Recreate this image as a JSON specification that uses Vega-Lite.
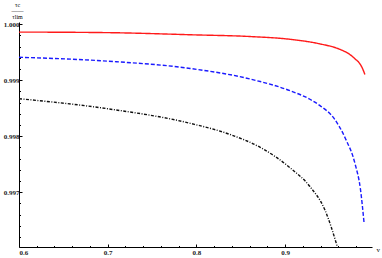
{
  "$schema": "https://vega.github.io/schema/vega-lite/v6.json",
  "width": 353,
  "height": 225,
  "autosize": {"type": "none"},
  "padding": {"left": 19, "top": 22, "right": 10, "bottom": 11},
  "background": "white",
  "config": {"view": {"stroke": null}},
  "data": {"values": [
    {"s": "a", "v": 0.600, "t": 0.99986},
    {"s": "a", "v": 0.700, "t": 0.99985},
    {"s": "a", "v": 0.798, "t": 0.99981},
    {"s": "a", "v": 0.861, "t": 0.99978},
    {"s": "a", "v": 0.906, "t": 0.99973},
    {"s": "a", "v": 0.939, "t": 0.99965},
    {"s": "a", "v": 0.962, "t": 0.99955},
    {"s": "a", "v": 0.973, "t": 0.99946},
    {"s": "a", "v": 0.979, "t": 0.99938},
    {"s": "a", "v": 0.984, "t": 0.99930},
    {"s": "a", "v": 0.987, "t": 0.99922},
    {"s": "a", "v": 0.990, "t": 0.99910},
    {"s": "b", "v": 0.600, "t": 0.99941},
    {"s": "b", "v": 0.700, "t": 0.99934},
    {"s": "b", "v": 0.793, "t": 0.99921},
    {"s": "b", "v": 0.861, "t": 0.99902},
    {"s": "b", "v": 0.906, "t": 0.99881},
    {"s": "b", "v": 0.928, "t": 0.99866},
    {"s": "b", "v": 0.939, "t": 0.99855},
    {"s": "b", "v": 0.956, "t": 0.99830},
    {"s": "b", "v": 0.968, "t": 0.99796},
    {"s": "b", "v": 0.979, "t": 0.99750},
    {"s": "b", "v": 0.985, "t": 0.99705},
    {"s": "b", "v": 0.989, "t": 0.99646},
    {"s": "c", "v": 0.600, "t": 0.99867},
    {"s": "c", "v": 0.700, "t": 0.99849},
    {"s": "c", "v": 0.793, "t": 0.99823},
    {"s": "c", "v": 0.838, "t": 0.99803},
    {"s": "c", "v": 0.872, "t": 0.99780},
    {"s": "c", "v": 0.906, "t": 0.99743},
    {"s": "c", "v": 0.928, "t": 0.99710},
    {"s": "c", "v": 0.945, "t": 0.99668},
    {"s": "c", "v": 0.959, "t": 0.99602}
  ]},
  "encoding": {
    "x": {"field": "v", "type": "quantitative", "scale": {"domain": [0.6, 0.998], "nice": false, "zero": false}},
    "y": {"field": "t", "type": "quantitative", "scale": {"domain": [0.99602, 1.00004], "nice": false, "zero": false}}
  },
  "layer": [
    {
      "mark": {"type": "line", "clip": true, "strokeWidth": 1.4, "interpolate": "monotone"},
      "encoding": {
        "x": {"field": "v", "type": "quantitative", "axis": {
          "orient": "bottom", "values": [0.6, 0.7, 0.8, 0.9], "format": ".1f",
          "domainColor": "black", "domainWidth": 1, "tickColor": "black", "tickSize": -3, "grid": false,
          "labelFont": "Liberation Serif", "labelFontSize": 7, "labelFontWeight": "bold", "labelColor": "#222", "labelPadding": 4,
          "title": "v", "titleFont": "Liberation Serif", "titleFontSize": 7, "titleFontWeight": "normal",
          "titleAnchor": "end", "titleAlign": "left", "titleBaseline": "middle", "titleX": 357, "titleY": 2
        }},
        "y": {"field": "t", "type": "quantitative", "axis": {
          "orient": "left", "values": [0.997, 0.998, 0.999, 1.0], "format": ".3f",
          "domainColor": "black", "domainWidth": 1, "tickColor": "black", "tickSize": -3, "grid": false,
          "labelFont": "Liberation Serif", "labelFontSize": 7, "labelFontWeight": "bold", "labelColor": "#222", "labelPadding": 3, "labelLimit": 40,
          "title": ["τc", "——", "τlim"], "titleFont": "Liberation Serif", "titleFontSize": 6, "titleFontWeight": "normal",
          "titleAngle": 0, "titleAlign": "center", "titleBaseline": "top", "titleLineHeight": 6, "titleX": -2, "titleY": -21
        }},
        "color": {"field": "s", "type": "nominal", "legend": null,
          "scale": {"domain": ["a", "b", "c"], "range": ["#ff1a1a", "#1a1aff", "#111111"]}},
        "strokeDash": {"field": "s", "type": "nominal", "legend": null,
          "scale": {"domain": ["a", "b", "c"], "range": [[1, 0], [4, 2], [3, 1.5, 1, 1.5]]}}
      }
    },
    {
      "mark": {"type": "line", "opacity": 0},
      "encoding": {
        "x": {"field": "v", "type": "quantitative", "axis": {
          "orient": "bottom", "values": [0.62, 0.64, 0.66, 0.68, 0.72, 0.74, 0.76, 0.78, 0.82, 0.84, 0.86, 0.88, 0.92, 0.94, 0.96, 0.98],
          "labels": false, "domain": false, "tickColor": "black", "tickSize": -1.5, "grid": false, "title": null
        }},
        "y": {"field": "t", "type": "quantitative", "axis": {
          "orient": "left", "values": [0.9962, 0.9964, 0.9966, 0.9968, 0.9972, 0.9974, 0.9976, 0.9978, 0.9982, 0.9984, 0.9986, 0.9988, 0.9992, 0.9994, 0.9996, 0.9998],
          "labels": false, "domain": false, "tickColor": "black", "tickSize": -1.5, "grid": false, "title": null
        }},
        "detail": {"field": "s"}
      }
    }
  ],
  "resolve": {"axis": {"x": "independent", "y": "independent"}}
}
